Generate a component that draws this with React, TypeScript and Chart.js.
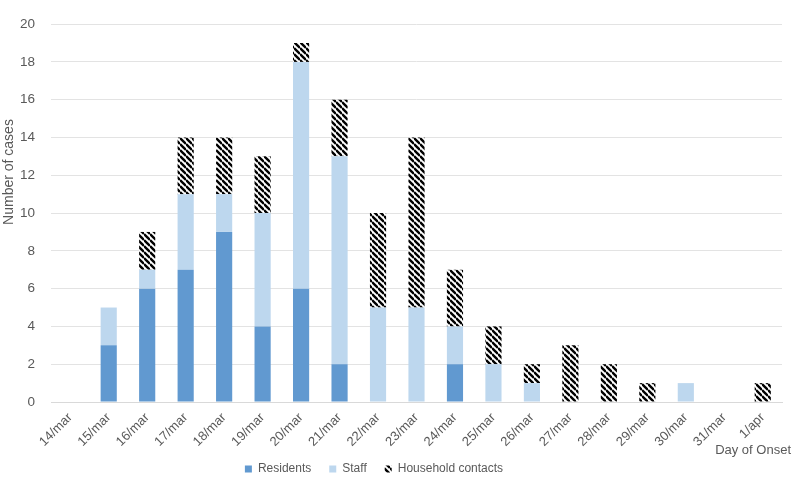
import { useEffect, useRef } from "react";
import { Chart, registerables } from "chart.js";

Chart.register(...registerables);

const days = [
  "14/mar", "15/mar", "16/mar", "17/mar", "18/mar", "19/mar", "20/mar",
  "21/mar", "22/mar", "23/mar", "24/mar", "25/mar", "26/mar", "27/mar",
  "28/mar", "29/mar", "30/mar", "31/mar", "1/apr",
];
const residents = [0, 3, 6, 7, 9, 4, 6, 2, 0, 0, 2, 0, 0, 0, 0, 0, 0, 0, 0];
const staff = [0, 2, 1, 4, 2, 6, 12, 11, 5, 5, 2, 2, 1, 0, 0, 0, 1, 0, 0];
const household = [0, 0, 2, 3, 3, 3, 1, 3, 5, 9, 3, 2, 1, 3, 2, 1, 0, 0, 1];

const GREY = "#595959";
const FONT = "'Liberation Sans', Arial, sans-serif";
const NARROW = "'Liberation Sans Narrow', 'Liberation Sans', Arial, sans-serif";

function makeHatch(): CanvasPattern | string {
  const s = 6;
  const c = document.createElement("canvas");
  c.width = s;
  c.height = s;
  const g = c.getContext("2d");
  if (!g) return "#000";
  g.fillStyle = "#fff";
  g.fillRect(0, 0, s, s);
  g.strokeStyle = "#000";
  g.lineWidth = 2.4;
  for (const k of [-1, 0, 1]) {
    g.beginPath();
    g.moveTo(0, k * s);
    g.lineTo(s, k * s + s);
    g.stroke();
  }
  return g.createPattern(c, "repeat") ?? "#000";
}

export default function App() {
  const canvasRef = useRef<HTMLCanvasElement | null>(null);

  useEffect(() => {
    if (!canvasRef.current) return;
    const hatch = makeHatch();

    // legend: wide gaps between items but a short box, a bit left of centre;
    // axis titles are placed where the original has them
    const extras = {
      id: "extras",
      beforeInit(chart: Chart) {
        const lg: any = (chart as any).legend;
        if (!lg) return;
        const fit = lg.fit.bind(lg);
        lg.fit = () => {
          fit();
          lg.height = 24;
        };
      },
      afterLayout(chart: Chart) {
        const lg: any = (chart as any).legend;
        if (lg) {
          lg.left -= 17;
          lg.right -= 17;
          lg.top -= 9;
        }
      },
      afterDraw(chart: Chart) {
        const ctx = chart.ctx;
        ctx.save();
        ctx.font = `13px ${FONT}`;
        ctx.fillStyle = GREY;
        ctx.textAlign = "right";
        ctx.textBaseline = "middle";
        ctx.fillText("Day of Onset", 791, 450);
        ctx.translate(9, 172);
        ctx.rotate(-Math.PI / 2);
        ctx.textAlign = "center";
        ctx.font = `14px ${NARROW}`;
        ctx.fillText("Number of cases", 0, 0);
        ctx.restore();
      },
    };

    const chart = new Chart(canvasRef.current, {
      type: "bar",
      data: {
        labels: days,
        datasets: [
          { label: "Residents", data: residents, backgroundColor: "#6199d0" },
          { label: "Staff", data: staff, backgroundColor: "#bdd7ee" },
          { label: "Household contacts", data: household, backgroundColor: hatch as any },
        ],
      },
      options: {
        responsive: true,
        maintainAspectRatio: false,
        animation: false,
        layout: { padding: { left: 0, right: 12, top: 0, bottom: 0 } },
        datasets: {
          bar: { barPercentage: 0.42, categoryPercentage: 1 },
        },
        scales: {
          x: {
            stacked: true,
            grid: { display: false, drawTicks: false },
            border: { color: "#d9d9d9" },
            afterFit: (s: any) => {
              s.height = 52;
            },
            ticks: {
              autoSkip: false,
              minRotation: 45,
              maxRotation: 45,
              color: GREY,
              padding: 8,
              font: { family: FONT, size: 13 },
            },
          },
          y: {
            stacked: true,
            min: 0,
            max: 20,
            grid: { color: "#e3e3e3", drawTicks: false },
            border: { display: false },
            afterFit: (s: any) => {
              s.width = 51;
            },
            ticks: {
              stepSize: 2,
              color: GREY,
              padding: 16,
              font: { family: FONT, size: 13.5 },
            },
          },
        },
        plugins: {
          legend: {
            position: "bottom",
            labels: {
              color: GREY,
              boxWidth: 7,
              boxHeight: 7,
              padding: 18,
              font: { family: FONT, size: 12 },
            },
          },
          tooltip: { enabled: false },
        },
      },
      plugins: [extras],
    });

    return () => {
      chart.destroy();
    };
  }, []);

  return (
    <div style={{ position: "absolute", left: 0, top: 0, width: 794, height: 478 }}>
      <canvas ref={canvasRef} />
    </div>
  );
}
